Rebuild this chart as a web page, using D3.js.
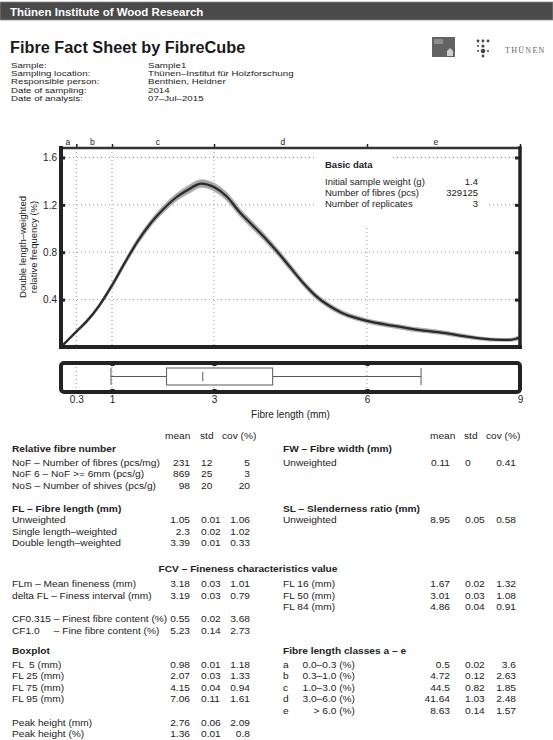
<!DOCTYPE html>
<html>
<head>
<meta charset="utf-8">
<title>Fibre Fact Sheet</title>
<script src="https://cdn.jsdelivr.net/npm/d3@7"></script>
<style>
  body { margin: 0; background: #fff; }
  svg { display: block; font-family: "Liberation Sans", Arial, Helvetica, sans-serif; }
</style>
</head>
<body>
<svg id="page" width="553" height="740"></svg>
<script>
// ---- data ----
const infoLabels = ["Sample:", "Sampling location:", "Responsible person:", "Date of sampling:", "Date of analysis:"];
const infoValues = ["Sample1", "Thünen–Institut für Holzforschung", "Benthien, Heidner", "2014", "07–Jul–2015"];

// double length-weighted distribution (mm, %)
const fibreLength = [0, 0.15, 0.3, 0.5, 0.75, 1.0, 1.25, 1.5, 1.75, 2.0, 2.25, 2.5, 2.75, 3.0, 3.25, 3.5, 3.75,
  4.0, 4.25, 4.5, 4.75, 5.0, 5.25, 5.5, 5.75, 6.0, 6.5, 7.0, 7.5, 8.0, 8.5, 8.8, 9.0];
const relFreq = [0, 0.065, 0.13, 0.215, 0.35, 0.52, 0.71, 0.89, 1.04, 1.16, 1.26, 1.33, 1.38, 1.35, 1.27, 1.14, 1.03,
  0.92, 0.80, 0.67, 0.54, 0.43, 0.35, 0.29, 0.25, 0.22, 0.18, 0.145, 0.12, 0.085, 0.062, 0.06, 0.08];
const relFreqStd = [0, 0.005, 0.008, 0.01, 0.012, 0.015, 0.018, 0.02, 0.022, 0.025, 0.027, 0.03, 0.03, 0.03, 0.03,
  0.028, 0.027, 0.025, 0.024, 0.022, 0.02, 0.02, 0.018, 0.017, 0.016, 0.015, 0.015, 0.015, 0.014, 0.012, 0.01, 0.01, 0.015];

const xTicks = [0.3, 1, 3, 6, 9];
const yTicks = [0.4, 0.8, 1.2, 1.6];
const classLetters = ["a", "b", "c", "d", "e"];
const classBounds = [0, 0.3, 1, 3, 6, 9];

// FL5, FL25, median, FL75, FL95
const boxQuantiles = [0.98, 2.07, 2.78, 4.15, 7.06];

const basicLabels = ["Initial sample weight (g)", "Number of fibres (pcs)", "Number of replicates"];
const basicValues = ["1.4", "329125", "3"];

const statHeader = ["mean", "std", "cov (%)"];
const relNumberRows = [
  ["NoF – Number of fibres (pcs/mg)", "231", "12", "5"],
  ["NoF 6 – NoF >= 6mm (pcs/g)", "869", "25", "3"],
  ["NoS – Number of shives (pcs/g)", "98", "20", "20"]];
const fibreLengthRows = [
  ["Unweighted", "1.05", "0.01", "1.06"],
  ["Single length–weighted", "2.3", "0.02", "1.02"],
  ["Double length–weighted", "3.39", "0.01", "0.33"]];
const finenessRows = [
  ["FLm – Mean fineness (mm)", "3.18", "0.03", "1.01"],
  ["delta FL – Finess interval (mm)", "3.19", "0.03", "0.79"]];
const fineContentCodes = ["CF0.315", "CF1.0"];
const fineContentRows = [
  ["– Finest fibre content (%)", "0.55", "0.02", "3.68"],
  ["– Fine fibre content (%)", "5.23", "0.14", "2.73"]];
const boxplotRows = [
  ["FL  5 (mm)", "0.98", "0.01", "1.18"],
  ["FL 25 (mm)", "2.07", "0.03", "1.33"],
  ["FL 75 (mm)", "4.15", "0.04", "0.94"],
  ["FL 95 (mm)", "7.06", "0.11", "1.61"]];
const peakRows = [
  ["Peak height (mm)", "2.76", "0.06", "2.09"],
  ["Peak height (%)", "1.36", "0.01", "0.8"]];
const widthRows = [["Unweighted", "0.11", "0", "0.41"]];
const slenderRows = [["Unweighted", "8.95", "0.05", "0.58"]];
const fcvRows = [
  ["FL 16 (mm)", "1.67", "0.02", "1.32"],
  ["FL 50 (mm)", "3.01", "0.03", "1.08"],
  ["FL 84 (mm)", "4.86", "0.04", "0.91"]];
const classRanges = ["0.0–0.3 (%)", "0.3–1.0 (%)", "1.0–3.0 (%)", "3.0–6.0 (%)", "> 6.0 (%)"];
const classMean = ["0.5", "4.72", "44.5", "41.64", "8.63"];
const classStd = ["0.02", "0.12", "0.82", "1.03", "0.14"];
const classCov = ["3.6", "2.63", "1.85", "2.48", "1.57"];

// ---- drawing ----
const svg = d3.select("#page");
const ink = "#222";

// text helper; sx widens the glyphs a little where the sheet's type runs wide
function txt(g, x, y, s, o = {}) {
  const host = o.sx ? g.append("g").attr("transform", `translate(${x},${y}) scale(${o.sx},1)`) : g;
  return host.append("text")
    .attr("x", o.sx ? 0 : x).attr("y", o.sx ? 0 : y)
    .attr("font-size", o.size || 9.5)
    .attr("font-weight", o.bold ? "bold" : null)
    .attr("text-anchor", o.anchor || "start")
    .attr("fill", o.fill || ink)
    .style("white-space", "pre")
    .text(s);
}

// header bar
svg.append("rect").attr("x", 0).attr("y", 2).attr("width", 553).attr("height", 18)
  .attr("fill", "#4a4a4a").attr("stroke", "#8a8a8a").attr("stroke-width", 0.8);
txt(svg, 10, 15.5, "Thünen Institute of Wood Research", { size: 11.5, bold: true, fill: "#fff" });

// title + sample info
txt(svg, 10, 53, "Fibre Fact Sheet by FibreCube", { size: 16.3, bold: true, fill: "#1a1a1a" });
infoLabels.forEach((s, i) => {
  const yy = 67.5 + i * 8.4;
  txt(svg, 11, yy, s, { size: 7.3, sx: 1.33 });
  txt(svg, 148, yy, infoValues[i], { size: 7.3, sx: 1.33 });
});

// logos (decoration)
const logo = svg.append("g");
logo.append("rect").attr("x", 432).attr("y", 37).attr("width", 23).attr("height", 20).attr("fill", "#636363");
logo.append("rect").attr("x", 434).attr("y", 39).attr("width", 9).attr("height", 5).attr("fill", "#8c8c8c");
logo.append("path").attr("d", "M447,56 L447,51 L450,48 L453,51 L453,56 Z").attr("fill", "#cfcfcf");
[[478, 41, 1.4], [483, 41, 1.4], [488, 41, 1.4], [478, 46, 1], [483, 46, 1.6], [483, 51, 2.3],
 [478, 51, 1], [488, 51, 1], [483, 56, 1.4]].forEach(d =>
  logo.append("circle").attr("cx", d[0]).attr("cy", d[1]).attr("r", d[2]).attr("fill", "#444"));
logo.append("text").attr("x", 505).attr("y", 53).attr("font-size", 8)
  .attr("font-family", '"Liberation Serif", "DejaVu Serif", serif')
  .attr("letter-spacing", 1.3).attr("fill", "#666").text("THÜNEN");

// scales
const x = d3.scaleLinear().domain([0, 9]).range([61, 520]);
const y = d3.scaleLinear().domain([0, 1.68]).range([347, 148]);
const plotTop = 148, plotBot = 347;

// grid
const grid = svg.append("g").attr("stroke", "#999").attr("stroke-width", 1).attr("stroke-dasharray", "1,3");
grid.selectAll("line.gx").data(xTicks.filter(d => d < 9)).join("line").attr("class", "gx")
  .attr("x1", d => x(d)).attr("x2", d => x(d)).attr("y1", plotTop).attr("y2", plotBot);
grid.selectAll("line.gy").data(yTicks).join("line").attr("class", "gy")
  .attr("x1", 61).attr("x2", 520).attr("y1", d => y(d)).attr("y2", d => y(d));

// distribution band + mean line
const dist = fibreLength.map((l, i) => ({ l, f: relFreq[i], s: relFreqStd[i] }));
const band = d3.area().x(d => x(d.l)).y0(d => y(d.f - d.s)).y1(d => y(d.f + d.s)).curve(d3.curveMonotoneX);
const line = d3.line().x(d => x(d.l)).y(d => y(d.f)).curve(d3.curveMonotoneX);
svg.append("path").datum(dist).attr("d", band).attr("fill", "#a0a0a0")
  .attr("stroke", "#b0b0b0").attr("stroke-width", 1.5);
svg.append("path").datum(dist).attr("d", line).attr("fill", "none")
  .attr("stroke", "#2a2a2a").attr("stroke-width", 2.2);

// basic data box (white background over grid)
svg.append("rect").attr("x", 315).attr("y", 150).attr("width", 77).attr("height", 22).attr("fill", "#fff");
svg.append("rect").attr("x", 315).attr("y", 172).attr("width", 173).attr("height", 54).attr("fill", "#fff");
txt(svg, 325, 168, "Basic data", { bold: true, size: 9.5 });
basicLabels.forEach((s, i) => {
  txt(svg, 325, 185 + i * 11, s, { size: 9.5 });
  txt(svg, 478, 185 + i * 11, basicValues[i], { size: 9.5, anchor: "end" });
});

// axes: ticks as short thick marks inside the frame
function styleAxis(g, width) {
  g.select(".domain").remove();
  g.selectAll(".tick line").attr("stroke", ink).attr("stroke-width", width);
  g.selectAll(".tick text").attr("fill", ink).attr("font-size", 10)
    .attr("font-family", '"Liberation Sans", Arial, Helvetica, sans-serif');
}
svg.append("g").attr("transform", "translate(61,0)")
  .call(d3.axisLeft(y).tickValues(yTicks).tickSize(-4).tickPadding(4).tickFormat(d3.format(".1f")))
  .call(g => styleAxis(g, 3));
svg.append("g").attr("transform", "translate(519,0)")
  .call(d3.axisRight(y).tickValues(yTicks).tickSize(-4).tickFormat(""))
  .call(g => styleAxis(g, 3));
svg.append("g").attr("transform", `translate(0,${plotTop})`)
  .call(d3.axisTop(x).tickValues(xTicks).tickSize(4).tickFormat(""))
  .call(g => styleAxis(g, 1.5));

// class letters a–e between the top ticks
svg.selectAll("text.cls").data(classLetters).join("text").attr("class", "cls")
  .attr("x", (d, i) => {
    const lo = classBounds[i], hi = classBounds[i + 1];
    return x((lo + hi) / 2 - 0.05 * (hi - lo));
  })
  .attr("y", 145).attr("font-size", 8.5).attr("text-anchor", "middle").attr("fill", ink).text(d => d);

// main frame
const frame = svg.append("g").attr("stroke", ink).attr("fill", "none").attr("stroke-linecap", "square");
frame.append("line").attr("x1", 61).attr("x2", 520).attr("y1", plotTop).attr("y2", plotTop).attr("stroke-width", 2.5).attr("stroke", "#333");
frame.append("line").attr("x1", 61).attr("x2", 61).attr("y1", plotTop).attr("y2", plotBot).attr("stroke-width", 4);
frame.append("line").attr("x1", 61).attr("x2", 520).attr("y1", plotBot).attr("y2", plotBot).attr("stroke-width", 4);
frame.append("line").attr("x1", 520).attr("x2", 520).attr("y1", plotTop).attr("y2", plotBot).attr("stroke-width", 3.5);

// y label
const yl = svg.append("g").attr("transform", "translate(25.5,247) rotate(-90)");
txt(yl, 0, 0, "Double length–weighted", { anchor: "middle", size: 9.5 });
txt(yl, 0, 11, "relative frequency (%)", { anchor: "middle", size: 9.5 });

// ---- boxplot panel ----
const bTop = 363, bBot = 392, bMid = 376.5;
const bgrid = svg.append("g").attr("stroke", "#999").attr("stroke-width", 1).attr("stroke-dasharray", "1,3");
bgrid.selectAll("line").data(xTicks.filter(d => d < 9)).join("line")
  .attr("x1", d => x(d)).attr("x2", d => x(d)).attr("y1", bTop).attr("y2", bBot);

const bp = svg.append("g").attr("stroke", "#5a5a5a").attr("stroke-width", 1).attr("fill", "none");
bp.append("line").attr("x1", x(boxQuantiles[0])).attr("x2", x(boxQuantiles[1])).attr("y1", bMid).attr("y2", bMid);
bp.append("line").attr("x1", x(boxQuantiles[3])).attr("x2", x(boxQuantiles[4])).attr("y1", bMid).attr("y2", bMid);
[boxQuantiles[0], boxQuantiles[4]].forEach(v =>
  bp.append("line").attr("x1", x(v)).attr("x2", x(v)).attr("y1", 368).attr("y2", 385));
bp.append("rect").attr("x", x(boxQuantiles[1])).attr("y", 368)
  .attr("width", x(boxQuantiles[3]) - x(boxQuantiles[1])).attr("height", 17).attr("fill", "#fff");
bp.append("line").attr("x1", x(boxQuantiles[2])).attr("x2", x(boxQuantiles[2])).attr("y1", 372).attr("y2", 381);

svg.append("rect").attr("x", 61).attr("y", bTop).attr("width", 459).attr("height", bBot - bTop)
  .attr("rx", 3).attr("fill", "none").attr("stroke", ink).attr("stroke-width", 4);
svg.append("g").attr("transform", `translate(0,${bTop})`)
  .call(d3.axisBottom(x).tickValues(xTicks.filter(d => d >= 1 && d < 9)).tickSize(3).tickFormat(""))
  .call(g => styleAxis(g, 4));
svg.append("g").attr("transform", `translate(0,${bBot})`)
  .call(d3.axisTop(x).tickValues(xTicks.filter(d => d >= 1 && d < 9)).tickSize(3).tickFormat(""))
  .call(g => styleAxis(g, 4));
svg.append("g").attr("transform", `translate(0,${bBot})`)
  .call(d3.axisBottom(x).tickValues(xTicks).tickSize(0).tickPadding(4).tickFormat(d => String(d)))
  .call(g => styleAxis(g, 0));
txt(svg, 290.5, 418, "Fibre length (mm)", { anchor: "middle", size: 10 });

// ---- statistics tables ----
const tbl = svg.append("g");
const L = { label: 12, mean: 190, std: 201, cov: 250 };
const R = { label: 283, mean: 450, std: 465, cov: 516 };
const fs = 9.5, sx = 1.07;

function statRow(cols, yy, label, mean, std, cov) {
  if (label !== null) txt(tbl, cols.label, yy, label, { size: fs, sx });
  txt(tbl, cols.mean, yy, mean, { size: fs, anchor: "end", sx });
  txt(tbl, cols.std, yy, std, { size: fs, sx });
  txt(tbl, cols.cov, yy, cov, { size: fs, anchor: "end", sx });
}
function rows(cols, ys, data) {
  data.forEach((r, i) => statRow(cols, ys[i], r[0], r[1], r[2], r[3]));
}
function header(xs, yy) {
  statHeader.forEach((s, i) => txt(tbl, xs[i], yy, s, { size: fs, sx }));
}

header([165, 200, 222], 439);
header([430, 464, 486], 439);

txt(tbl, L.label, 452, "Relative fibre number", { bold: true, size: fs, sx });
rows(L, [465.5, 477, 488.5], relNumberRows);
txt(tbl, L.label, 512, "FL – Fibre length (mm)", { bold: true, size: fs, sx });
rows(L, [523, 534.5, 546], fibreLengthRows);

txt(tbl, 248, 572, "FCV – Fineness characteristics value", { bold: true, size: fs, anchor: "middle", sx });
rows(L, [587, 598.5], finenessRows);

const codeW = txt(tbl, L.label, 621.5, fineContentCodes[0] + " ", { size: fs, sx }).node().getComputedTextLength() * sx;
txt(tbl, L.label, 633.5, fineContentCodes[1], { size: fs, sx });
fineContentRows.forEach((r, i) => {
  const yy = 621.5 + i * 12;
  txt(tbl, L.label + codeW, yy, r[0], { size: fs, sx });
  statRow(L, yy, null, r[1], r[2], r[3]);
});

txt(tbl, L.label, 653.5, "Boxplot", { bold: true, size: fs, sx });
rows(L, [667.5, 679, 690.5, 702], boxplotRows);
rows(L, [725.5, 737], peakRows);

txt(tbl, R.label, 452, "FW – Fibre width (mm)", { bold: true, size: fs, sx });
rows(R, [465.5], widthRows);
txt(tbl, R.label, 512, "SL – Slenderness ratio (mm)", { bold: true, size: fs, sx });
rows(R, [523], slenderRows);
rows(R, [587, 598.5, 610], fcvRows);

txt(tbl, R.label, 653.5, "Fibre length classes a – e", { bold: true, size: fs, sx });
classLetters.forEach((c, i) => {
  const yy = 667.5 + i * 11.6;
  txt(tbl, R.label, yy, c, { size: fs, sx });
  txt(tbl, 355, yy, classRanges[i], { size: fs, anchor: "end", sx });
  statRow(R, yy, null, classMean[i], classStd[i], classCov[i]);
});
</script>
</body>
</html>
